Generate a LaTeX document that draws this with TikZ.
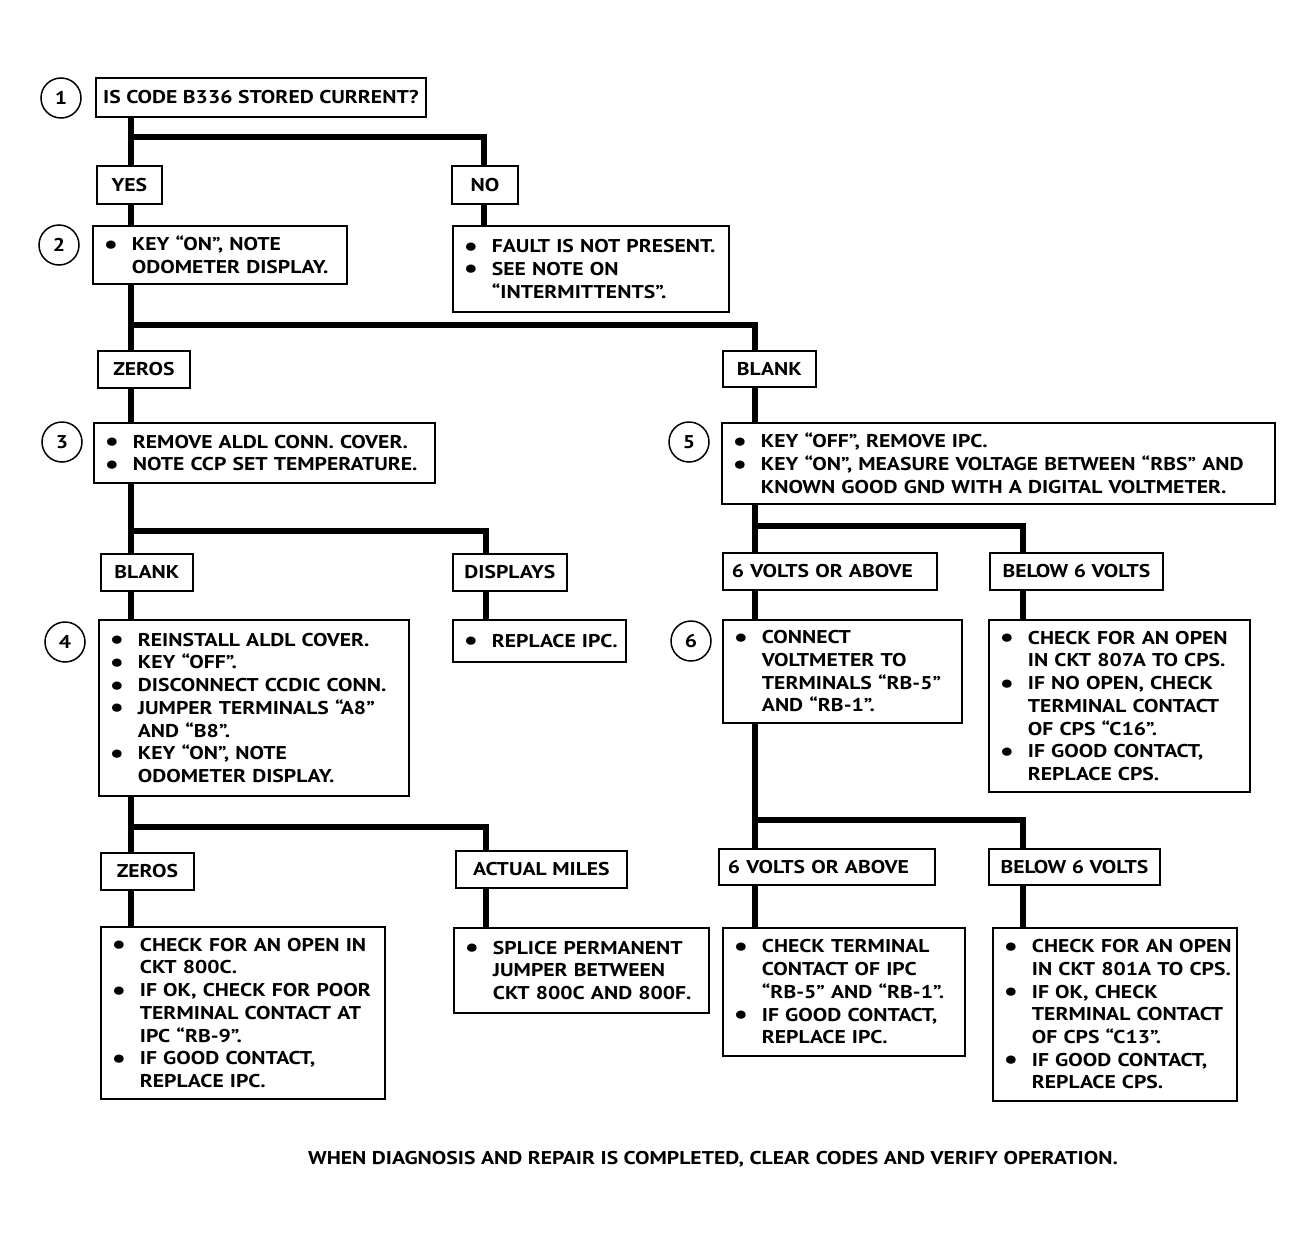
\documentclass[tikz,border=0pt]{standalone}
\usepackage{fontspec}
\setmainfont{PT Sans}[FakeStretch=1.17]
\newcommand\bu{\makebox[28pt][l]{\smash{\raisebox{-2.5pt}{\scalebox{1.45}{\textbullet}}}}}
\newcommand\ind{\hspace*{28pt}}
\newcommand\bl[1]{\mbox{\bu #1}}
\newcommand\cl[1]{\mbox{\ind #1}}
\newcommand\ff{\bfseries\fontsize{18.5}{22.7}\selectfont}
\begin{document}
\begin{tikzpicture}[x=1pt,y=-1pt,
  conn/.style={line width=6pt},
  lab/.style={draw,line width=1.8pt,fill=white,anchor=north west,inner sep=0pt,font=\ff},
  txtbox/.style={draw,line width=1.8pt,fill=white,anchor=north west,align=left,
     inner xsep=11pt,inner ysep=0pt,font=\ff},
  circ/.style={circle,draw,line width=1.5pt,minimum size=40pt,inner sep=0pt,font=\ff}]
\useasboundingbox (0,0) rectangle (1312,1242);
% trunk x positions
\coordinate (tL) at (131,0);
\coordinate (tN) at (484,0);
\coordinate (tM) at (486,0);
\coordinate (tR) at (755,0);
\coordinate (tRR) at (1023,0);
\coordinate (j1) at (131,137);
\coordinate (j2) at (131,325);
\coordinate (j3) at (131,531);
\coordinate (j4) at (131,827);
\coordinate (j5) at (755,526);
\coordinate (j6) at (755,820);
% circles
\node[circ] (c1) at (61,98) {1};
\node[circ] (c2) at (59,245) {2};
\node[circ] (c3) at (62,442) {3};
\node[circ] (c4) at (65,642) {4};
\node[circ] (c5) at (689,442) {5};
\node[circ] (c6) at (691,641) {6};
% labels and boxes
\node[lab,minimum width=330pt,minimum height=39pt] (b1) at (95,77) {IS CODE B336 STORED CURRENT?};
\node[lab,minimum width=65pt,minimum height=38pt] (yes) at (96,165) {YES};
\node[lab,minimum width=66pt,minimum height=38pt] (no) at (451,165) {NO};
\node[txtbox,text width=232pt,minimum height=58pt] (b2) at (92,225)
  {\bl{KEY “ON”, NOTE}\\ \cl{ODOMETER DISPLAY.}};
\node[txtbox,text width=254pt,minimum height=86pt] (bno) at (452,225)
  {\bl{FAULT IS NOT PRESENT.}\\ \bl{SEE NOTE ON}\\ \cl{“INTERMITTENTS”.}};
\node[lab,minimum width=92pt,minimum height=37pt] (zeros) at (97,350) {ZEROS};
\node[lab,minimum width=93pt,minimum height=36pt] (blankR) at (722,350) {BLANK};
\node[txtbox,text width=319pt,minimum height=60pt] (b3) at (93,422)
  {\bl{REMOVE ALDL CONN. COVER.}\\ \bl{NOTE CCP SET TEMPERATURE.}};
\node[txtbox,text width=531pt,minimum height=81pt] (b5) at (721,422)
  {\bl{KEY “OFF”, REMOVE IPC.}\\ \bl{KEY “ON”, MEASURE VOLTAGE BETWEEN “RBS” AND}\\ \cl{KNOWN GOOD GND WITH A DIGITAL VOLTMETER.}};
\node[lab,minimum width=92pt,minimum height=37pt] (blankL) at (100,553) {BLANK};
\node[lab,minimum width=114pt,minimum height=37pt] (disp) at (452,553) {DISPLAYS};
\node[lab,text width=196pt,inner xsep=9pt,align=left,minimum height=37pt] (v1) at (722,552) {\mbox{6 VOLTS OR ABOVE}};
\node[lab,minimum width=173pt,minimum height=37pt] (w1) at (989,552) {BELOW 6 VOLTS};
\node[txtbox,text width=288pt,minimum height=176pt] (b4) at (98,619)
  {\bl{REINSTALL ALDL COVER.}\\ \bl{KEY “OFF”.}\\ \bl{DISCONNECT CCDIC CONN.}\\ \bl{JUMPER TERMINALS “A8”}\\ \cl{AND “B8”.}\\ \bl{KEY “ON”, NOTE}\\ \cl{ODOMETER DISPLAY.}};
\node[txtbox,text width=151pt,minimum height=42pt] (brep) at (452,619)
  {\bl{REPLACE IPC.}};
\node[txtbox,text width=217pt,minimum height=103pt] (b6) at (722,619)
  {\bl{CONNECT}\\ \cl{VOLTMETER TO}\\ \cl{TERMINALS “RB-5”}\\ \cl{AND “RB-1”.}};
\node[txtbox,text width=239pt,minimum height=172pt] (b7) at (988,619)
  {\bl{CHECK FOR AN OPEN}\\ \cl{IN CKT 807A TO CPS.}\\ \bl{IF NO OPEN, CHECK}\\ \cl{TERMINAL CONTACT}\\ \cl{OF CPS “C16”.}\\ \bl{IF GOOD CONTACT,}\\ \cl{REPLACE CPS.}};
\node[lab,minimum width=93pt,minimum height=37pt] (zeros2) at (100,852) {ZEROS};
\node[lab,minimum width=171pt,minimum height=37pt] (act) at (455,850) {ACTUAL MILES};
\node[lab,text width=198pt,inner xsep=9pt,align=left,minimum height=36pt] (v2) at (718,848) {\mbox{6 VOLTS OR ABOVE}};
\node[lab,minimum width=171pt,minimum height=36pt] (w2) at (988,848) {BELOW 6 VOLTS};
\node[txtbox,text width=262pt,minimum height=172pt] (b8) at (100,926)
  {\bl{CHECK FOR AN OPEN IN}\\ \cl{CKT 800C.}\\ \bl{IF OK, CHECK FOR POOR}\\ \cl{TERMINAL CONTACT AT}\\ \cl{IPC “RB-9”.}\\ \bl{IF GOOD CONTACT,}\\ \cl{REPLACE IPC.}};
\node[txtbox,text width=233pt,minimum height=85pt] (b9) at (453,927)
  {\bl{SPLICE PERMANENT}\\ \cl{JUMPER BETWEEN}\\ \cl{CKT 800C AND 800F.}};
\node[txtbox,text width=220pt,minimum height=128pt] (b10) at (722,927)
  {\bl{CHECK TERMINAL}\\ \cl{CONTACT OF IPC}\\ \cl{“RB-5” AND “RB-1”.}\\ \bl{IF GOOD CONTACT,}\\ \cl{REPLACE IPC.}};
\node[txtbox,text width=222pt,minimum height=173pt] (b11) at (992,927)
  {\bl{CHECK FOR AN OPEN}\\ \cl{IN CKT 801A TO CPS.}\\ \bl{IF OK, CHECK}\\ \cl{TERMINAL CONTACT}\\ \cl{OF CPS “C13”.}\\ \bl{IF GOOD CONTACT,}\\ \cl{REPLACE CPS.}};
\node[font=\ff] (foot) at (713,1159) {WHEN DIAGNOSIS AND REPAIR IS COMPLETED, CLEAR CODES AND VERIFY OPERATION.};
% connectors
\draw[conn] (b1.south -| tL) -- (yes.north -| tL);
\draw[conn] (j1) -| (no.north -| tN);
\draw[conn] (yes.south -| tL) -- (b2.north -| tL);
\draw[conn] (no.south -| tN) -- (bno.north -| tN);
\draw[conn] (b2.south -| tL) -- (zeros.north -| tL);
\draw[conn] (j2) -| (blankR.north -| tR);
\draw[conn] (zeros.south -| tL) -- (b3.north -| tL);
\draw[conn] (blankR.south -| tR) -- (b5.north -| tR);
\draw[conn] (b3.south -| tL) -- (blankL.north -| tL);
\draw[conn] (j3) -| (disp.north -| tM);
\draw[conn] (blankL.south -| tL) -- (b4.north -| tL);
\draw[conn] (disp.south -| tM) -- (brep.north -| tM);
\draw[conn] (b4.south -| tL) -- (zeros2.north -| tL);
\draw[conn] (j4) -| (act.north -| tM);
\draw[conn] (zeros2.south -| tL) -- (b8.north -| tL);
\draw[conn] (act.south -| tM) -- (b9.north -| tM);
\draw[conn] (b5.south -| tR) -- (v1.north -| tR);
\draw[conn] (j5) -| (w1.north -| tRR);
\draw[conn] (v1.south -| tR) -- (b6.north -| tR);
\draw[conn] (w1.south -| tRR) -- (b7.north -| tRR);
\draw[conn] (b6.south -| tR) -- (v2.north -| tR);
\draw[conn] (j6) -| (w2.north -| tRR);
\draw[conn] (v2.south -| tR) -- (b10.north -| tR);
\draw[conn] (w2.south -| tRR) -- (b11.north -| tRR);
\end{tikzpicture}
\end{document}
